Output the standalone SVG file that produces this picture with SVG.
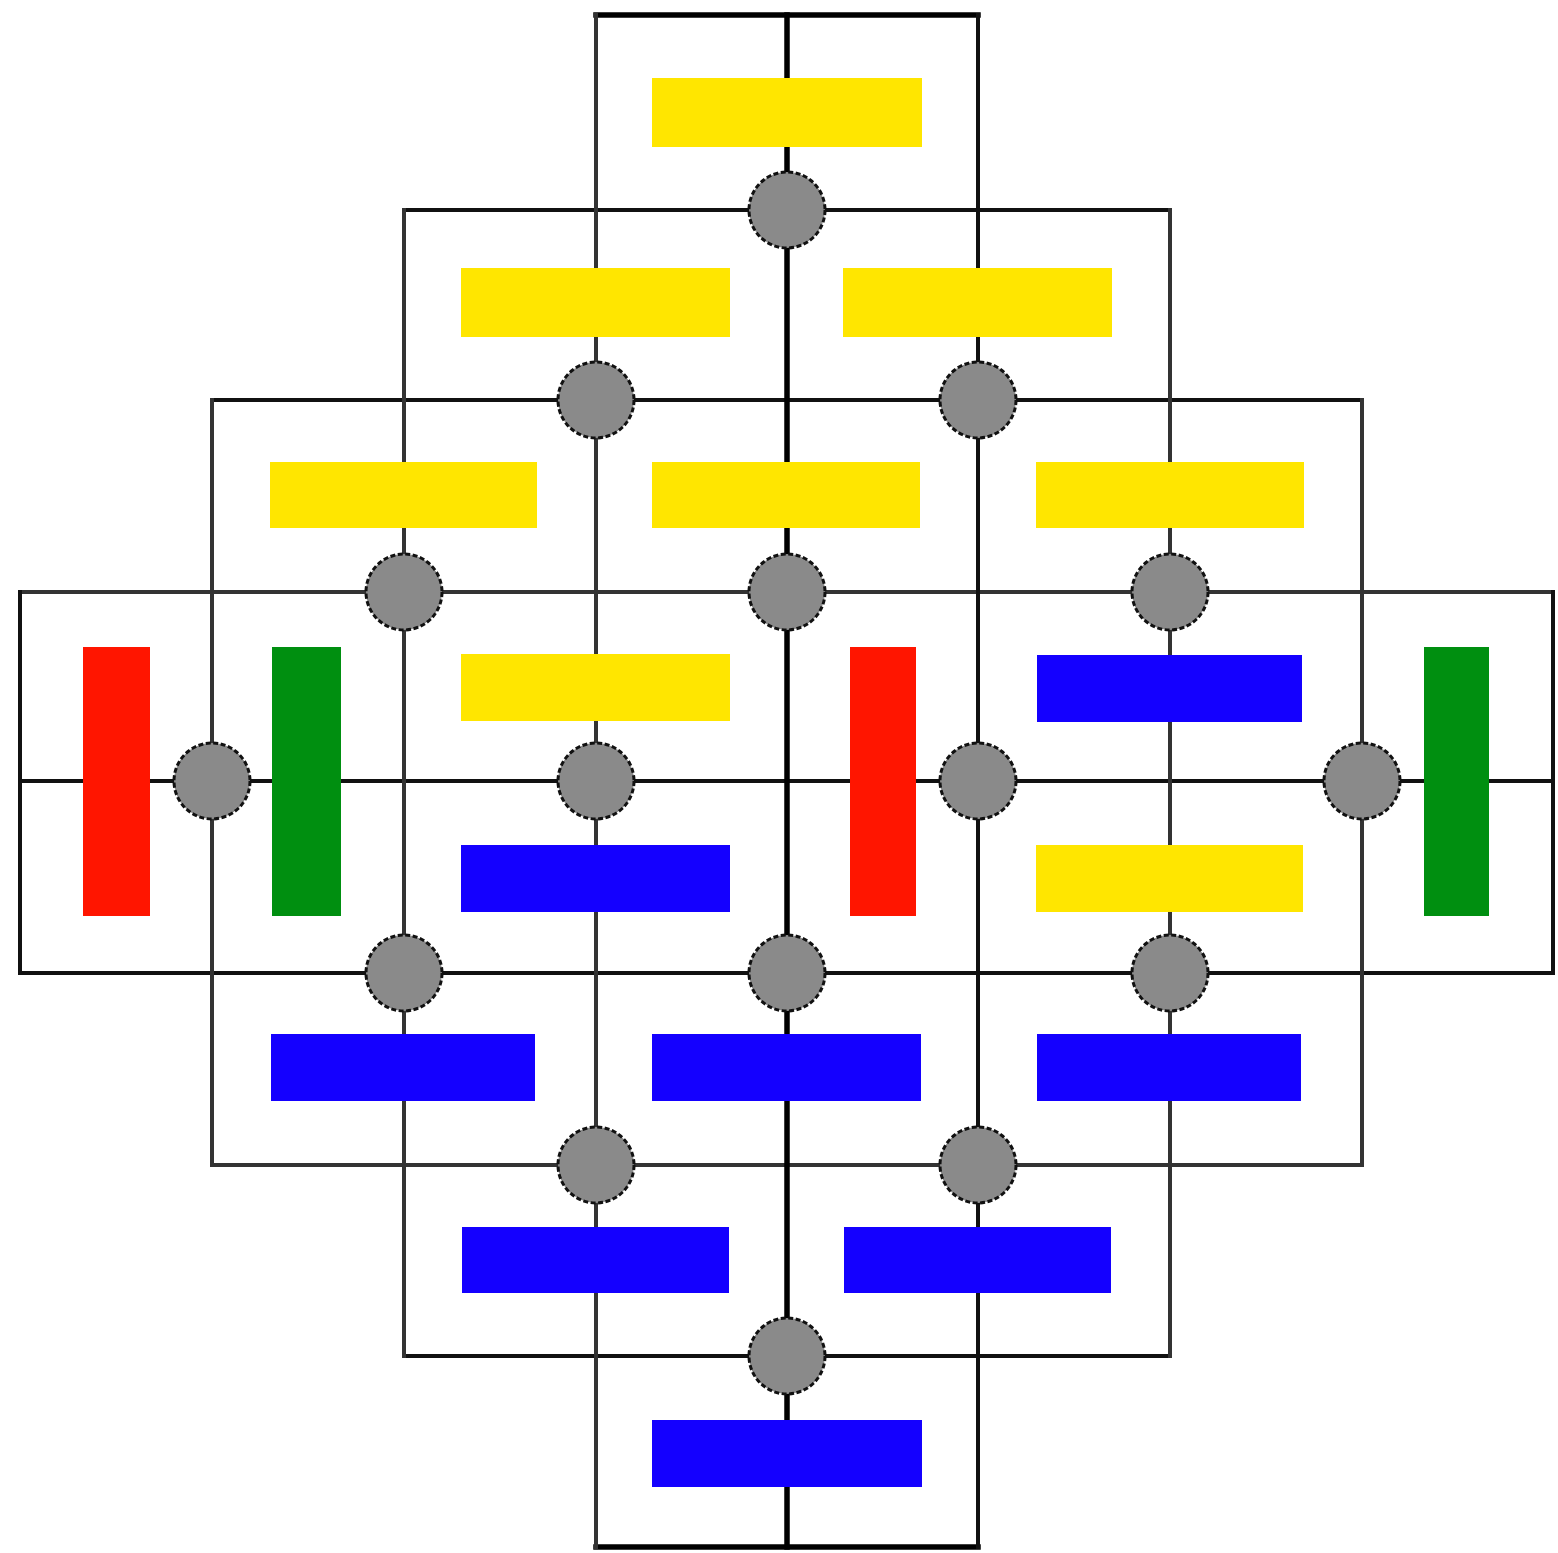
<svg xmlns="http://www.w3.org/2000/svg" width="1558" height="1553" viewBox="0 0 1558 1553">
<style>
.ln{stroke:#111;stroke-width:4;fill:none;stroke-linecap:square}
.lg{stroke:#333;stroke-width:4;fill:none;stroke-linecap:square}
.lc{stroke:#000;stroke-width:5.5;fill:none;stroke-linecap:square}
.y{fill:#FFE600}
.b{fill:#1400FF}
.r{fill:#FF1500}
.g{fill:#008F10}
.c{fill:#8A8A8A;stroke:#111;stroke-width:3;stroke-dasharray:5 2.5}
</style>
<rect width="1558" height="1553" fill="#ffffff"/>
<g id="connectors">
<path class="lc" d="M596 15H978"/>
<path class="ln" d="M404 210H1170"/>
<path class="ln" d="M212 400H1362"/>
<path class="lg" d="M20 592H1553"/>
<path class="ln" d="M20 781H1553"/>
<path class="ln" d="M20 973H1553"/>
<path class="lg" d="M212 1165H1362"/>
<path class="ln" d="M404 1356H1170"/>
<path class="lc" d="M596 1547H978"/>
<path class="ln" d="M20 592V973"/>
<path class="lg" d="M212 400V1165"/>
<path class="lg" d="M404 210V1356"/>
<path class="lg" d="M596 15V1547"/>
<path class="lc" d="M787 15V1547"/>
<path class="ln" d="M978 15V1547"/>
<path class="lg" d="M1170 210V1356"/>
<path class="lg" d="M1362 400V1165"/>
<path class="ln" d="M1553 592V973"/>
</g>
<g id="bars">
<g id="bar-y1"><rect class="y" x="652" y="78" width="270" height="69"/></g>
<g id="bar-y2"><rect class="y" x="461" y="268" width="269" height="69"/></g>
<g id="bar-y3"><rect class="y" x="843" y="268" width="269" height="69"/></g>
<g id="bar-y4"><rect class="y" x="270" y="462" width="267" height="66"/></g>
<g id="bar-y5"><rect class="y" x="652" y="462" width="268" height="66"/></g>
<g id="bar-y6"><rect class="y" x="1036" y="462" width="268" height="66"/></g>
<g id="bar-y7"><rect class="y" x="461" y="654" width="269" height="67"/></g>
<g id="bar-b1"><rect class="b" x="1037" y="655" width="265" height="67"/></g>
<g id="bar-b2"><rect class="b" x="461" y="845" width="269" height="67"/></g>
<g id="bar-y8"><rect class="y" x="1036" y="845" width="267" height="67"/></g>
<g id="bar-b3"><rect class="b" x="271" y="1034" width="264" height="67"/></g>
<g id="bar-b4"><rect class="b" x="652" y="1034" width="269" height="67"/></g>
<g id="bar-b5"><rect class="b" x="1037" y="1034" width="264" height="67"/></g>
<g id="bar-b6"><rect class="b" x="462" y="1227" width="267" height="66"/></g>
<g id="bar-b7"><rect class="b" x="844" y="1227" width="267" height="66"/></g>
<g id="bar-b8"><rect class="b" x="652" y="1420" width="270" height="67"/></g>
<g id="bar-r1"><rect class="r" x="83" y="647" width="67" height="269"/></g>
<g id="bar-g1"><rect class="g" x="272" y="647" width="69" height="269"/></g>
<g id="bar-r2"><rect class="r" x="850" y="647" width="66" height="269"/></g>
<g id="bar-g2"><rect class="g" x="1424" y="647" width="65" height="269"/></g>
</g>
<g id="joints">
<g id="j1"><circle class="c" cx="787" cy="210" r="38"/></g>
<g id="j2"><circle class="c" cx="596" cy="400" r="38"/></g>
<g id="j3"><circle class="c" cx="978" cy="400" r="38"/></g>
<g id="j4"><circle class="c" cx="404" cy="592" r="38"/></g>
<g id="j5"><circle class="c" cx="787" cy="592" r="38"/></g>
<g id="j6"><circle class="c" cx="1170" cy="592" r="38"/></g>
<g id="j7"><circle class="c" cx="212" cy="781" r="38"/></g>
<g id="j8"><circle class="c" cx="596" cy="781" r="38"/></g>
<g id="j9"><circle class="c" cx="978" cy="781" r="38"/></g>
<g id="j10"><circle class="c" cx="1362" cy="781" r="38"/></g>
<g id="j11"><circle class="c" cx="404" cy="973" r="38"/></g>
<g id="j12"><circle class="c" cx="787" cy="973" r="38"/></g>
<g id="j13"><circle class="c" cx="1170" cy="973" r="38"/></g>
<g id="j14"><circle class="c" cx="596" cy="1165" r="38"/></g>
<g id="j15"><circle class="c" cx="978" cy="1165" r="38"/></g>
<g id="j16"><circle class="c" cx="787" cy="1356" r="38"/></g>
</g>
</svg>
